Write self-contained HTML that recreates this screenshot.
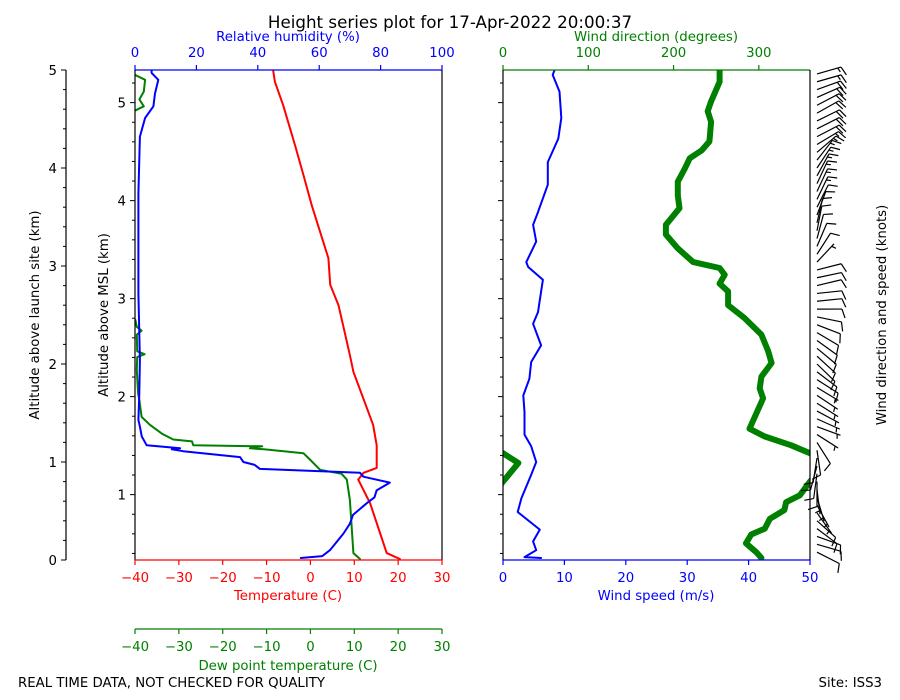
<!DOCTYPE html>
<html><head><meta charset="utf-8"><style>
html,body{margin:0;padding:0;background:#fff}
svg{display:block;font-family:"DejaVu Sans","Liberation Sans",sans-serif}
</style></head><body>
<svg id="c" width="900" height="700" viewBox="0 0 900 700" xmlns="http://www.w3.org/2000/svg">
<defs>
<clipPath id="clipL"><rect x="135" y="70" width="307" height="490"/></clipPath>
<clipPath id="clipR"><rect x="503" y="70" width="307" height="490"/></clipPath>
</defs>
<text x="450" y="28" text-anchor="middle" font-size="16.7">Height series plot for 17-Apr-2022 20:00:37</text>
<text x="18" y="687" font-size="13.3">REAL TIME DATA, NOT CHECKED FOR QUALITY</text>
<text x="882" y="687" text-anchor="end" font-size="13.3">Site: ISS3</text>
<text transform="translate(39,315) rotate(-90)" text-anchor="middle" font-size="13.3">Altitude above launch site (km)</text>
<text transform="translate(108,315) rotate(-90)" text-anchor="middle" font-size="13.3">Altitude above MSL (km)</text>
<text transform="translate(886,315) rotate(-90)" text-anchor="middle" font-size="13.3">Wind direction and speed (knots)</text>
<text x="288" y="41" text-anchor="middle" font-size="13.3" fill="#0000ff">Relative humidity (%)</text>
<text x="288" y="600" text-anchor="middle" font-size="13.3" fill="#ff0000">Temperature (C)</text>
<text x="288" y="670" text-anchor="middle" font-size="13.3" fill="#008000">Dew point temperature (C)</text>
<text x="656" y="41" text-anchor="middle" font-size="13.3" fill="#008000">Wind direction (degrees)</text>
<text x="656" y="600" text-anchor="middle" font-size="13.3" fill="#0000ff">Wind speed (m/s)</text>
<g id="g"></g>
</svg>
<script>
// ---- data (altitude in km above launch site) ----
var tempAlt=[5.0,4.88,4.64,4.23,3.93,3.62,3.08,2.81,2.60,2.09,1.92,1.38,1.17,0.94,0.89,0.82,0.58,0.27,0.07,0.01];
var tempVal=[-8.5,-8.1,-6.2,-3.5,-1.6,0.3,4.1,4.5,6.4,9.0,9.8,14.3,15.1,15.1,12.1,10.9,13.6,15.9,17.4,20.4];
var dewAlt=[0.01,0.07,0.61,0.82,0.88,0.92,1.02,1.09,1.13,1.14,1.16,1.17,1.21,1.23,1.29,1.38,1.46,1.63,1.70,1.94,2.07,2.10,2.13,2.30,2.34,2.38,2.45,2.47,4.57,4.59,4.63,4.70,4.78,4.90,4.95];
var dewVal=[11.3,9.8,9.0,8.3,7.1,2.2,0.0,-1.6,-10.6,-13.8,-11.0,-26.7,-27.0,-31.3,-33.9,-36.6,-38.5,-39.0,-39.3,-39.6,-39.5,-37.8,-39.5,-39.6,-38.5,-39.6,-39.9,null,null,-39.8,-38.0,-39.0,-38.0,-37.7,-40.0];
var rhAlt=[0.02,0.04,0.10,0.27,0.37,0.46,0.58,0.64,0.71,0.79,0.85,0.89,0.93,0.97,1.00,1.05,1.11,1.13,1.14,1.17,1.26,1.36,1.43,1.70,2.04,2.72,3.74,4.32,4.51,4.63,4.76,4.90,4.97,5.00];
var rhVal=[54,61,63.5,67.9,70,71,75.5,78,78.7,83,74.4,73.3,40.7,39,35.3,34.2,15.7,12,14.7,3.8,2.2,1.6,1.1,1.4,1.6,1.1,1.1,1.6,3.3,6,6.5,7.6,5.4,5.4];
var wsAlt=[5.00,4.95,4.78,4.51,4.30,4.06,3.83,3.55,3.42,3.25,3.04,2.99,2.86,2.53,2.41,2.19,2.02,1.85,1.68,1.51,1.28,1.16,1.00,0.87,0.63,0.49,0.31,0.19,0.10,0.03,0.02];
var wsVal=[8.4,8.1,9.2,9.5,9.0,7.3,7.3,5.7,4.9,5.4,3.8,4.1,6.5,5.7,4.9,6.2,4.6,4.3,3.3,3.5,3.5,4.6,5.4,4.6,3.0,2.4,6.0,4.9,5.4,3.5,6.2];
var wdAlt=[5.00,4.88,4.68,4.58,4.47,4.27,4.18,4.10,3.99,3.86,3.72,3.59,3.42,3.32,3.18,3.04,2.98,2.91,2.82,2.74,2.60,2.47,2.30,2.13,2.01,1.87,1.75,1.65,1.34,1.26,1.17,1.09,0.99,0.82,0.80,0.66,0.59,0.51,0.42,0.32,0.26,0.17,0.08,0.02];
var wdVal=[254,254,244,240,244,242,233,219,213,205,205,207,191,191,205,223,254,260,254,264,264,283,303,311,315,303,301,305,289,307,338,360,378,362,360,348,332,330,313,307,291,285,297,303];
var tempTicks=[-40,-30,-20,-10,0,10,20,30];
var rhTicks=[0,20,40,60,80,100];
var wsTicks=[0,10,20,30,40,50];
var wdTicks=[0,100,200,300];
var launchTicks=[0,1,2,3,4,5];
var mslTicks=[1,2,3,4,5];
var MSL_OFFSET=0.333;

// ---- scales ----
function yA(h){return 560-h*98;}
function xT(t){return 135+(t+40)*307/70;}
function xRH(r){return 135+r*3.07;}
function xWS(s){return 503+s*6.14;}
function xWD(d){return 503+d*307/360;}

var NS="http://www.w3.org/2000/svg", G=document.getElementById('g');
function mk(tag,attrs,parent){var e=document.createElementNS(NS,tag);for(var k in attrs)e.setAttribute(k,attrs[k]);(parent||G).appendChild(e);return e;}
function line(x1,y1,x2,y2,col,w,name){var l=mk('line',{x1:x1,y1:y1,x2:x2,y2:y2,stroke:col,'stroke-width':w||1});

return l;}
function text(x,y,s,col,anchor,name){var t=mk('text',{x:x,y:y,'font-size':13.3,fill:col||'#000','text-anchor':anchor||'middle'});t.textContent=s;

return t;}
function series(alts,vals,xf,col,w,clip,name){
  var d='',pen=false;
  for(var i=0;i<alts.length;i++){
    if(vals[i]===null){pen=false;continue;}
    d+=(pen?'L':'M')+xf(vals[i]).toFixed(1)+','+yA(alts[i]).toFixed(1);pen=true;}
  var p=mk('path',{d:d,fill:'none',stroke:col,'stroke-width':w,'stroke-linejoin':'round','stroke-linecap':'round','clip-path':'url(#'+clip+')'});
  
  
  return p;}

// ---- series ----
series(tempAlt,tempVal,xT,'#ff0000',2,'clipL','temperature-line');
series(dewAlt,dewVal,xT,'#008000',2,'clipL','dewpoint-line');
series(rhAlt,rhVal,xRH,'#0000ff',2,'clipL','rh-line');
series(wsAlt,wsVal,xWS,'#0000ff',2,'clipR','wind-speed-line');
series(wdAlt,wdVal,xWD,'#008000',6,'clipR','wind-direction-line');
series(wdAlt,wdVal,function(d){return xWD(d-360);},'#008000',6,'clipR','wind-direction-line-wrapped');

// ---- left panel axes ----
line(135,70,442,70,'#0000ff',1.2,'rh-axis-spine');
line(442,70,442,560,'#000',1.2,'left-panel-right-spine');
line(135,70,135,560,'#000',1.2,'msl-axis-spine');
line(135,560,442,560,'#ff0000',1.2,'temperature-axis-spine');
line(135,629,442,629,'#008000',1.2,'dewpoint-axis-spine');
tempTicks.forEach(function(t){
  line(xT(t),560,xT(t),565,'#ff0000',1.2);
  text(xT(t),582,(t<0?'\u2212'+(-t):t),'#ff0000');
  line(xT(t),629,xT(t),634,'#008000',1.2);
  text(xT(t),651,(t<0?'\u2212'+(-t):t),'#008000');
});
rhTicks.forEach(function(r){line(xRH(r),70,xRH(r),65,'#0000ff',1.2);text(xRH(r),57,r,'#0000ff');});
wdTicks.forEach(function(d){line(xWD(d),70,xWD(d),65,'#008000',1.2);text(xWD(d),57,d,'#008000');});
wsTicks.forEach(function(s){line(xWS(s),560,xWS(s),565,'#0000ff',1.2);text(xWS(s),582,s,'#0000ff');});

// outer launch axis
line(66,70,66,560,'#000',1.2,'launch-axis-spine');
for(var i=0;i<=25;i++){var h=i*0.2,y=yA(h);line(66,y,i%5===0?61:63,y,'#000',1);}
launchTicks.forEach(function(h){text(57,yA(h)+5,h,'#000','end');});
// msl axes (left panel & right panel)
for(var m=0.4;m<=5.35;m+=0.2){var hh=m-MSL_OFFSET;if(hh<0||hh>5.001)continue;var yy=yA(hh);
  var major=Math.abs(m-Math.round(m))<0.01;
  line(135,yy,major?130:132,yy,'#000',1);line(503,yy,major?498:500,yy,'#000',1);}
mslTicks.forEach(function(m){text(126,yA(m-MSL_OFFSET)+5,m,'#000','end');});

// right panel frame
line(503,70,810,70,'#008000',1.2,'wind-direction-axis-spine');
line(503,560,810,560,'#0000ff',1.2,'wind-speed-axis-spine');
line(503,70,503,560,'#000',1.2,'right-panel-left-spine');
line(810,70,810,560,'#000',1.2,'right-panel-right-spine');

// ---- wind barbs (sampled from wind arrays) ----
function interp(alts,vals,h){
  for(var i=0;i<alts.length-1;i++){var a=alts[i],b=alts[i+1];
    if((h<=a&&h>=b)||(h>=a&&h<=b)){var f=(b===a)?0:(h-a)/(b-a);return vals[i]+f*(vals[i+1]-vals[i]);}}
  return vals[vals.length-1];}
for(var h=0.08;h<=4.98;h+=0.08){
  var dir=interp(wdAlt,wdVal,h),spd=interp(wsAlt,wsVal,h)*1.944;
  var b=(dir+180)*Math.PI/180,L=25,bx=817,by=yA(h);
  var ux=Math.sin(b),uy=-Math.cos(b),tx=bx+ux*L,ty=by+uy*L;
  var g=mk('g',{stroke:'#000','stroke-width':1.2,fill:'none'});
  
  
  mk('line',{x1:bx,y1:by,x2:tx,y2:ty},g);
  var px=-uy,py=ux,n=Math.round(spd/5),pos=0;
  var full=Math.floor(n/2),half=n%2;
  for(var k=0;k<full;k++){var sx=tx-ux*pos,sy=ty-uy*pos;mk('line',{x1:sx,y1:sy,x2:sx+px*9+ux*3,y2:sy+py*9+uy*3},g);pos+=3.5;}
  if(half){if(full===0)pos=3.5;var sx2=tx-ux*pos,sy2=ty-uy*pos;mk('line',{x1:sx2,y1:sy2,x2:sx2+px*4.5+ux*1.5,y2:sy2+py*4.5+uy*1.5},g);}
}
</script>
</body></html>
